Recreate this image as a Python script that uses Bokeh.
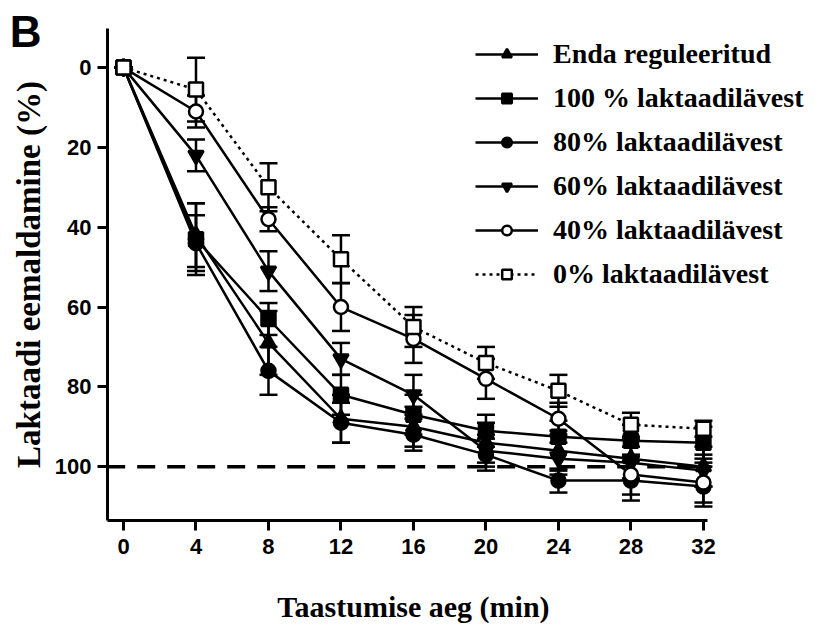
from bokeh.plotting import figure
from bokeh.models import (Range1d, ColumnDataSource, Whisker, TeeHead, Legend, LegendItem,
                          FixedTicker, LinearAxis)
from bokeh.embed import file_html
from bokeh.resources import INLINE

# ---- data ----
times = [0, 4, 8, 12, 16, 20, 24, 28, 32]
x_ticks = [0, 4, 8, 12, 16, 20, 24, 28, 32]
y_ticks = [0, 20, 40, 60, 80, 100]

labels = ["Enda reguleeritud", "100 % laktaadilävest", "80% laktaadilävest",
          "60% laktaadilävest", "40% laktaadilävest", "0% laktaadilävest"]

enda = [0, 42, 69, 88, 90, 94, 96, 98, 100]
p100 = [0, 43, 63, 82, 87, 91, 92.5, 93.5, 94]
p80 = [0, 44, 76, 89, 92, 97, 103.5, 103.5, 105]
p60 = [0, 22, 51, 73, 82, 96, 98, 99, 101]
p40 = [0, 11, 38, 60, 68, 78, 88, 102, 104]
p0 = [0, 5.5, 30, 48, 65, 74, 81, 89.5, 90.5]

enda_sd = [0, 8, 8, 6, 5, 5, 5, 5, 5]
p100_sd = [0, 9, 4, 5, 5, 4, 4, 4, 4]
p80_sd = [0, 7, 6, 5, 4, 4, 3, 5, 5]
p60_sd = [0, 4, 5, 4, 5, 4, 4, 4, 4]
p40_sd = [0, 4, 3, 6, 6, 5, 4, 5, 5]
p0_sd = [0, 8, 6, 6, 5, 4, 4, 3, 2]

ref_x = [-0.9, 32.2]
ref_y = [100, 100]

x_title = "Taastumise aeg (min)"
x_title_pos = 16
panel_letter = "B"
panel_letter_pos = -9

series = [
    (labels[0], enda, enda_sd, "triangle", "black", "solid"),
    (labels[1], p100, p100_sd, "square", "black", "solid"),
    (labels[2], p80, p80_sd, "circle", "black", "solid"),
    (labels[3], p60, p60_sd, "inverted_triangle", "black", "solid"),
    (labels[4], p40, p40_sd, "circle", "white", "solid"),
    (labels[5], p0, p0_sd, "square", "white", "3 4"),
]

p = figure(width=824, height=636, output_backend="svg", toolbar_location=None,
           x_range=Range1d(-0.883, 38.46), y_range=Range1d(113.5, -9.8),
           min_border_left=107, min_border_right=4, min_border_top=28, min_border_bottom=116)
p.outline_line_color = None
p.grid.visible = False
p.background_fill_color = "white"

# reference dashed line
p.line(ref_x, ref_y, line_color="black", line_width=3.5, line_dash="18 12")

items = []
for name, vals, sd, marker, fill, dash in series:
    src = ColumnDataSource(dict(x=times, y=vals,
                                upper=[v + s for v, s in zip(vals, sd)],
                                lower=[v - s for v, s in zip(vals, sd)]))
    w = Whisker(source=src, base="x", upper="upper", lower="lower",
                line_color="black", line_width=2.5,
                upper_head=TeeHead(size=18, line_color="black", line_width=2.5),
                lower_head=TeeHead(size=18, line_color="black", line_width=2.5))
    p.add_layout(w)
    lr = p.line("x", "y", source=src, line_color="black", line_width=2.5, line_dash=dash)
    sz = 14 if marker not in ("triangle", "inverted_triangle") else 15
    sr = p.scatter("x", "y", source=src, marker=marker, size=sz,
                   fill_color=fill, line_color="black", line_width=2.5)
    items.append(LegendItem(label=name, renderers=[lr, sr]))

leg = Legend(items=items, location=(368, 230), orientation="vertical",
             glyph_width=63, glyph_height=24, label_height=24, spacing=12,
             label_standoff=15, padding=0, margin=0,
             border_line_color=None, background_fill_alpha=0,
             label_text_font="Liberation Serif", label_text_font_style="bold",
             label_text_font_size="28px", label_text_color="black")
p.add_layout(leg, "center")

# axes
for ax in (p.xaxis[0], p.yaxis[0]):
    ax.axis_line_width = 3
    ax.axis_line_color = "black"
    ax.major_tick_line_width = 3
    ax.major_tick_line_color = "black"
    ax.major_tick_out = 10
    ax.major_tick_in = 0
    ax.minor_tick_line_color = None
    ax.major_label_text_font = "Liberation Sans"
    ax.major_label_text_font_style = "bold"
    ax.major_label_text_font_size = "22px"
    ax.major_label_text_color = "black"
    ax.axis_label_text_font = "Liberation Serif"
    ax.axis_label_text_font_style = "bold"
    ax.axis_label_text_color = "black"

p.xaxis.ticker = FixedTicker(ticks=x_ticks)
p.yaxis.ticker = FixedTicker(ticks=y_ticks)
p.xaxis.bounds = (-0.883, 32.2)
p.xaxis.major_label_standoff = 8
p.yaxis.axis_label = "Laktaadi eemaldamine (%)"
p.yaxis.axis_label_text_font_size = "33px"
p.yaxis.axis_label_standoff = 5
p.yaxis.major_label_standoff = 6


def label_axis(text, pos, font, size, standoff):
    return LinearAxis(ticker=FixedTicker(ticks=[pos]),
                      major_label_overrides={pos: text},
                      axis_line_color=None, major_tick_line_color=None,
                      minor_tick_line_color=None, major_tick_out=0, major_tick_in=0,
                      minor_tick_out=0, minor_tick_in=0,
                      major_label_standoff=standoff,
                      major_label_text_font=font,
                      major_label_text_font_style="bold",
                      major_label_text_font_size=size,
                      major_label_text_color="black")


# x-axis title, centred under the drawn axis (outer, label-only axis)
p.add_layout(label_axis(x_title, x_title_pos, "Liberation Serif", "30px", 33), "below")
# panel letter as an outer (label-only) left axis
p.add_layout(label_axis(panel_letter, panel_letter_pos, "Liberation Sans", "44px", -34), "left")

open("out.html", "w").write(file_html(p, INLINE))
